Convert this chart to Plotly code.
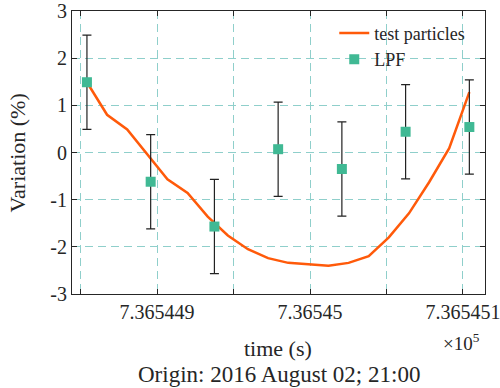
import plotly.graph_objects as go

# --- data ---
day0 = 736544  # datenum day
lpf_hours = [20.5, 21.5, 22.5, 23.5, 24.5, 25.5, 26.5]
lpf_values = [1.49, -0.62, -1.57, 0.07, -0.35, 0.44, 0.54]
lpf_err = [1.0, 1.0, 1.0, 1.0, 1.0, 1.0, 1.0]

tp_n = 20
tp_hours = [20.5 + i * 6.0 / (tp_n - 1) for i in range(tp_n)]
tp_values = [1.49, 0.80, 0.49, -0.05, -0.57, -0.86, -1.36, -1.76, -2.05, -2.24,
             -2.34, -2.37, -2.40, -2.34, -2.20, -1.80, -1.29, -0.63, 0.09, 1.28]

x_tickvals = [736544.85, 736544.90, 736544.95, 736545.00, 736545.05, 736545.10]
x_ticktext = ["", "7.365449", "", "7.36545", "", "7.365451"]
y_tickvals = [-3, -2, -1, 0, 1, 2, 3]
y_ticktext = ["-3", "-2", "-1", "0", "1", "2", "3"]

lpf_x = [day0 + h / 24.0 for h in lpf_hours]
tp_x = [day0 + h / 24.0 for h in tp_hours]

FONT = "Liberation Serif"
GRID = "#8fcfcb"
AX = "#262626"

fig = go.Figure()
fig.add_trace(go.Scatter(
    x=tp_x, y=tp_values, mode="lines", name="test particles",
    line=dict(color="#ff5a0a", width=2.5),
))
fig.add_trace(go.Scatter(
    x=lpf_x, y=lpf_values, mode="markers", name="LPF",
    marker=dict(symbol="square", size=10, color="#40b994"),
    error_y=dict(type="data", array=lpf_err, visible=True, color="#222222",
                 thickness=1.2, width=4.5),
))

fig.update_layout(
    width=500, height=388,
    margin=dict(l=72, r=15, t=11, b=94, autoexpand=False),
    paper_bgcolor="white", plot_bgcolor="white",
    font=dict(family=FONT, size=20, color=AX),
    showlegend=True,
    legend=dict(x=0.635, y=0.987, xanchor="left", yanchor="top",
                bgcolor="rgba(0,0,0,0)", font=dict(size=18, family=FONT, color=AX),
                tracegroupgap=0, itemwidth=30),
    xaxis=dict(
        range=[736544.8444, 736545.1144],
        tickvals=x_tickvals, ticktext=x_ticktext,
        ticks="inside", ticklen=5, tickcolor=AX,
        showline=True, linecolor=AX, linewidth=1, mirror="ticks",
        showgrid=True, gridcolor=GRID, gridwidth=1, griddash="8px,5px",
        zeroline=False, automargin=False, ticklabeloverflow="allow",
        tickfont=dict(size=20, family=FONT, color=AX),
    ),
    yaxis=dict(
        range=[-3, 3],
        tickvals=y_tickvals, ticktext=y_ticktext,
        ticks="inside", ticklen=5, tickcolor=AX,
        showline=True, linecolor=AX, linewidth=1, mirror="ticks",
        showgrid=True, gridcolor=GRID, gridwidth=1, griddash="8px,5px",
        zeroline=False, automargin=False, ticklabeloverflow="allow",
        tickfont=dict(size=20, family=FONT, color=AX),
    ),
    annotations=[
        dict(text="Variation (%)", xref="paper", yref="paper", x=-0.131, y=0.5,
             xanchor="center", yanchor="middle", textangle=-90, showarrow=False,
             font=dict(size=22, family=FONT, color=AX)),
        dict(text="time (s)", xref="paper", yref="paper", x=0.499, y=-0.191,
             xanchor="center", yanchor="middle", showarrow=False,
             font=dict(size=22, family=FONT, color=AX)),
        dict(text="×10<sup>5</sup>", xref="paper", yref="paper", x=0.944, y=-0.17,
             xanchor="center", yanchor="middle", showarrow=False,
             font=dict(size=19, family=FONT, color=AX)),
        dict(text="Origin: 2016 August 02; 21:00", xref="paper", yref="paper",
             x=0.5, y=-0.283, xanchor="center", yanchor="middle", showarrow=False,
             font=dict(size=23, family=FONT, color=AX)),
    ],
)

fig.write_html("out.html", config={"displayModeBar": False},
               post_script="document.body.style.margin='0';")
